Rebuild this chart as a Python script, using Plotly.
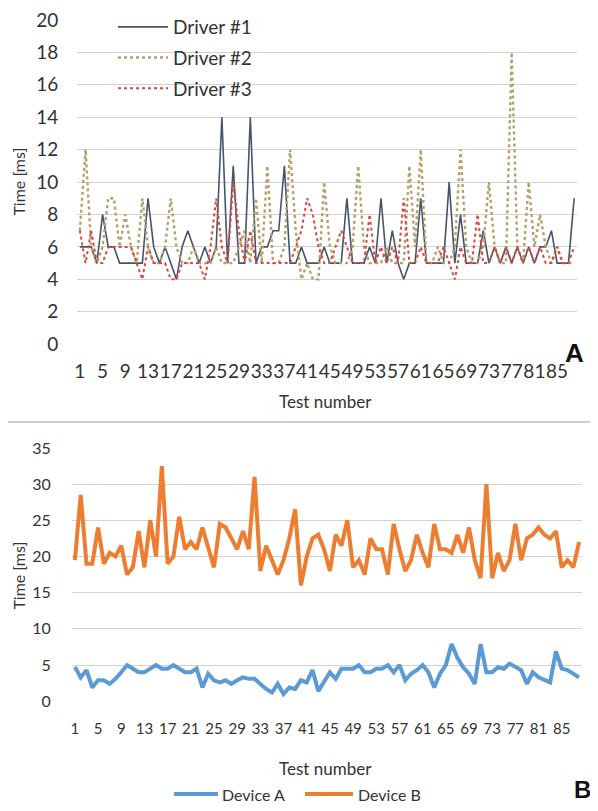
import plotly.graph_objects as go

# ---------------- data ----------------
tests = list(range(1, 89))
tick_vals = list(range(1, 89, 4))
tick_text = [str(v) for v in tick_vals]

driver1 = [6, 6, 6, 5, 8, 6, 6, 5, 5, 5,
           5, 5, 9, 6, 5, 6, 5, 4, 6, 7,
           6, 5, 6, 5, 6, 14, 5, 11, 5, 5,
           14, 5, 6, 6, 7, 7, 11, 5, 5, 6,
           5, 5, 5, 6, 5, 5, 5, 9, 5, 5,
           5, 6, 5, 9, 5, 7, 5, 4, 5, 5,
           9, 5, 5, 5, 5, 10, 5, 8, 5, 5,
           5, 7, 5, 6, 5, 6, 5, 6, 5, 6,
           5, 6, 6, 7, 5, 5, 5, 9]
driver2 = [7, 12, 6, 5, 6, 9, 9, 6, 8, 6,
           5, 9, 6, 5, 5, 6, 9, 6, 5, 5,
           6, 5, 5, 5, 6, 5, 5, 5, 6, 7,
           5, 9, 5, 11, 5, 5, 6, 12, 7, 4,
           5, 4, 4, 10, 6, 5, 5, 5, 6, 11,
           6, 5, 5, 5, 6, 5, 5, 5, 11, 6,
           12, 5, 5, 6, 5, 5, 6, 12, 6, 5,
           5, 6, 10, 6, 5, 5, 18, 6, 5, 10,
           6, 8, 6, 5, 6, 5, 5, 5]
driver3 = [7, 5, 7, 5, 5, 6, 6, 6, 6, 6,
           5, 4, 6, 5, 5, 5, 4, 4, 5, 5,
           5, 5, 4, 6, 9, 6, 5, 10, 7, 5,
           7, 5, 5, 5, 5, 5, 5, 5, 6, 7,
           9, 8, 6, 5, 5, 6, 7, 6, 5, 5,
           5, 8, 5, 6, 5, 6, 5, 9, 5, 5,
           6, 5, 5, 5, 6, 5, 4, 6, 5, 5,
           8, 5, 5, 6, 5, 6, 5, 6, 5, 6,
           5, 6, 5, 5, 6, 5, 5, 6]

device_a = [4.75, 3.3, 4.3, 1.9, 2.9, 2.9, 2.4, 3.1, 4, 5,
            4.5, 4, 4, 4.5, 5, 4.5, 4.5, 5, 4.5, 4,
            4, 4.5, 1.9, 3.8, 2.9, 2.6, 2.9, 2.4, 2.9, 3.3,
            3.1, 3.1, 2.4, 1.7, 1.2, 2.4, 1, 1.9, 1.7, 2.9,
            2.6, 4.3, 1.4, 2.6, 4, 3.1, 4.5, 4.5, 4.5, 5,
            4, 4, 4.5, 4.5, 5, 4, 5, 2.9, 3.8, 4.3,
            5, 4, 1.9, 3.8, 5, 7.9, 6, 4.7, 3.8, 2.4,
            7.9, 4, 4, 4.7, 4.5, 5.2, 4.8, 4.3, 2.4, 4,
            3.3, 2.9, 2.6, 6.9, 4.5, 4.3, 3.8, 3.3]
device_b = [19.5, 28.5, 19, 19, 24, 19, 20.5, 20, 21.5, 17.5,
            18.5, 23.5, 18.5, 25, 20, 32.5, 19, 20, 25.5, 21,
            22, 21, 24, 21, 18.5, 24.5, 24, 22.5, 21, 23.5,
            21, 31, 18, 21.5, 19.5, 17.5, 19.5, 22.5, 26.5, 16,
            20, 22.5, 23, 21, 18, 23, 21.5, 25, 18.5, 19.5,
            17.5, 22.5, 21, 21, 17.5, 24.5, 21, 18, 19.5, 23,
            20.5, 18.5, 24.5, 21, 21, 20.5, 23, 20.5, 24, 19.5,
            17, 30, 17, 20.5, 18, 19.5, 24.5, 19.5, 22.5, 23,
            24, 23, 22.5, 23.5, 18.5, 19.5, 18.5, 22]

for arr in (driver1, driver2, driver3, device_a, device_b):
    assert len(arr) == len(tests), len(arr)

# ---------------- figure ----------------
# the page body has an 8 px margin, so the figure is drawn 8 px in and 16 px smaller
OFF = 8
W, H = 598 - 2 * OFF, 811 - 2 * OFF
FONT = "Lato"
TXT = "#333333"
GRID = "#d8d0ca"
COL_A = "#5b9bd5"
COL_B = "#ed7d31"


def px_x(p):
    return (p - OFF) / W


def px_y(p):
    return 1 - (p - OFF) / H


fig = go.Figure()

fig.add_trace(go.Scatter(x=tests, y=driver1, mode="lines", name="Driver #1",
                         line=dict(color="#44546a", width=1.6),
                         xaxis="x", yaxis="y", legendgroup="d1"))
fig.add_trace(go.Scatter(x=tests, y=driver2, mode="lines", name="Driver #2",
                         line=dict(color="#b5a06a", width=2.4, dash="dot"),
                         xaxis="x", yaxis="y", legendgroup="d2"))
fig.add_trace(go.Scatter(x=tests, y=driver3, mode="lines", name="Driver #3",
                         line=dict(color="#d9483f", width=2, dash="dot"),
                         xaxis="x", yaxis="y", legendgroup="d3"))

fig.add_trace(go.Scatter(x=tests, y=device_a, mode="lines", name="Device A",
                         line=dict(color=COL_A, width=4), showlegend=False,
                         xaxis="x2", yaxis="y2"))
fig.add_trace(go.Scatter(x=tests, y=device_b, mode="lines", name="Device B",
                         line=dict(color=COL_B, width=4), showlegend=False,
                         xaxis="x2", yaxis="y2"))

common_x = dict(range=[0.5, 88.5], tickmode="array", tickvals=tick_vals, ticktext=tick_text,
                showgrid=False, zeroline=False, showline=False, automargin=False,
                tickangle=0, ticks="outside", tickcolor="rgba(0,0,0,0)",
                ticklabeloverflow="allow")
common_y = dict(showgrid=True, gridcolor=GRID, gridwidth=1.3, zeroline=False, showline=False,
                automargin=False, ticks="outside", tickcolor="rgba(0,0,0,0)",
                ticklabeloverflow="allow")

fig.update_layout(
    template="none",
    width=W, height=H,
    margin=dict(l=0, r=0, t=0, b=0, pad=0),
    paper_bgcolor="white", plot_bgcolor="white",
    font=dict(family=FONT, color=TXT),
    xaxis=dict(domain=[px_x(77), px_x(577)], anchor="y", ticklen=10,
               tickfont=dict(size=19, family=FONT, color=TXT), **common_x),
    yaxis=dict(domain=[px_y(343), px_y(17.2)], anchor="x", range=[0, 20.05], dtick=2,
               ticklen=14, tickfont=dict(size=19, family=FONT, color=TXT), **common_y),
    xaxis2=dict(domain=[px_x(72), px_x(582)], anchor="y2", ticklen=14,
                tickfont=dict(size=15, family=FONT, color=TXT), **common_x),
    yaxis2=dict(domain=[px_y(701), px_y(446.3)], anchor="x2", range=[0, 35.1], dtick=5,
                ticklen=17, tickfont=dict(size=16, family=FONT, color=TXT), **common_y),
    legend=dict(x=px_x(113), y=px_y(6), xanchor="left", yanchor="top",
                bgcolor="rgba(0,0,0,0)", font=dict(size=19, family=FONT, color=TXT),
                itemwidth=50, tracegroupgap=3, orientation="v"),
    showlegend=True,
)

LEG_Y = 794
annotations = [
    dict(text="Time [ms]", x=px_x(19), y=px_y(180), textangle=-90, showarrow=False,
         xanchor="center", yanchor="middle", borderpad=0,
         xref="paper", yref="paper", font=dict(size=16, family=FONT, color=TXT)),
    dict(text="Test number", x=px_x(326), y=px_y(400), showarrow=False,
         xanchor="center", yanchor="middle",
         xref="paper", yref="paper", font=dict(size=17, family=FONT, color=TXT)),
    dict(text="Time [ms]", x=px_x(19), y=px_y(575), textangle=-90, showarrow=False,
         xanchor="center", yanchor="middle", borderpad=0,
         xref="paper", yref="paper", font=dict(size=16, family=FONT, color=TXT)),
    dict(text="Test number", x=px_x(326), y=px_y(768), showarrow=False,
         xanchor="center", yanchor="middle",
         xref="paper", yref="paper", font=dict(size=17, family=FONT, color=TXT)),
    dict(text="<b>A</b>", x=px_x(574), y=px_y(352), showarrow=False, bgcolor="white",
         xanchor="center", yanchor="middle", borderpad=0,
         xref="paper", yref="paper", font=dict(size=26, family="Liberation Sans", color="#111")),
    dict(text="<b>B</b>", x=px_x(582), y=px_y(789), showarrow=False,
         xanchor="center", yanchor="middle", borderpad=0,
         xref="paper", yref="paper", font=dict(size=24, family="Liberation Sans", color="#111")),
    dict(text="Device A", x=px_x(220), y=px_y(LEG_Y), showarrow=False,
         xanchor="left", yanchor="middle",
         xref="paper", yref="paper", font=dict(size=16, family=FONT, color=TXT)),
    dict(text="Device B", x=px_x(356), y=px_y(LEG_Y), showarrow=False,
         xanchor="left", yanchor="middle",
         xref="paper", yref="paper", font=dict(size=16, family=FONT, color=TXT)),
]
fig.update_layout(annotations=annotations)

fig.add_shape(type="line", xref="paper", yref="paper", x0=0, x1=1,
              y0=px_y(421), y1=px_y(421), line=dict(color="#cfcfcf", width=2))
fig.add_shape(type="line", xref="paper", yref="paper", x0=px_x(174), x1=px_x(218),
              y0=px_y(LEG_Y), y1=px_y(LEG_Y), line=dict(color=COL_A, width=4))
fig.add_shape(type="line", xref="paper", yref="paper", x0=px_x(305), x1=px_x(353),
              y0=px_y(LEG_Y), y1=px_y(LEG_Y), line=dict(color=COL_B, width=4))

fig.write_html("out.html")
